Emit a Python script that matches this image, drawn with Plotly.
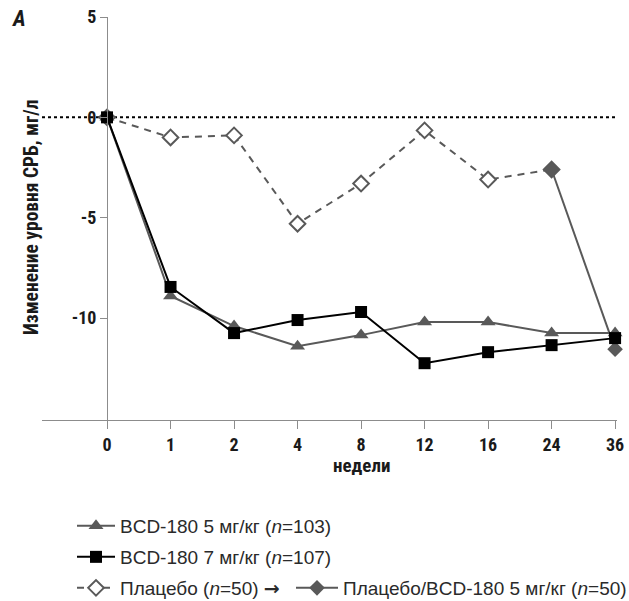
import plotly.graph_objects as go

weeks = ["0", "1", "2", "4", "8", "12", "16", "24", "36"]
xpos = list(range(len(weeks)))

bcd5 = [0, -8.9, -10.4, -11.4, -10.85, -10.2, -10.2, -10.75, -10.75]
bcd7 = [0, -8.45, -10.75, -10.1, -9.7, -12.25, -11.7, -11.35, -11.0]
placebo = [0, -1.0, -0.9, -5.3, -3.3, -0.65, -3.1, -2.6]
placebo_x = xpos[:8]
switch = [-2.6, -11.55]
switch_x = xpos[7:9]

GRAY = "#595959"
AX = "#8c8c8c"
COND = "Liberation Sans Narrow, Roboto Condensed, Arial Narrow, Liberation Sans, sans-serif"
REG = "Liberation Sans, Arial, sans-serif"

fig = go.Figure()

fig.add_trace(go.Scatter(
    x=placebo_x, y=placebo, mode="lines+markers",
    line=dict(color=GRAY, width=2, dash="7px,6px"),
    marker=dict(symbol="diamond", size=12, color="white",
                line=dict(color=GRAY, width=2)),
    name="Плацебо (<i>n</i>=50) <span style=\"font-family:DejaVu Sans;font-weight:bold\">→</span>",
    legend="legend3", cliponaxis=False))

fig.add_trace(go.Scatter(
    x=switch_x, y=switch, mode="lines+markers",
    line=dict(color=GRAY, width=2),
    marker=dict(symbol="diamond", size=12, color=GRAY),
    name="Плацебо/BCD-180 5 мг/кг (<i>n</i>=50)", legend="legend4", cliponaxis=False))

fig.add_trace(go.Scatter(
    x=xpos, y=bcd5, mode="lines+markers",
    line=dict(color=GRAY, width=2),
    marker=dict(symbol="triangle-up", size=13, color=GRAY),
    name="BCD-180 5 мг/кг (<i>n</i>=103)", legend="legend", cliponaxis=False))

fig.add_trace(go.Scatter(
    x=xpos, y=bcd7, mode="lines+markers",
    line=dict(color="black", width=2),
    marker=dict(symbol="square", size=12, color="black"),
    name="BCD-180 7 мг/кг (<i>n</i>=107)", legend="legend2", cliponaxis=False))

fig.add_shape(type="line", xref="paper", x0=0, x1=1, yref="y", y0=0, y1=0,
              line=dict(color="black", width=2, dash="dot"), layer="below")

L = 42
R = 617
xr = [-1.024, 8.03]
ypos = (0 - xr[0]) / (xr[1] - xr[0])

leg_common = dict(font=dict(family=REG, size=19, color="#2a2a2a"),
                  xref="container", yref="container", xanchor="left",
                  yanchor="middle", bgcolor="rgba(0,0,0,0)", borderwidth=0)

fig.update_layout(
    width=629, height=601,
    margin=dict(l=L, r=629 - R, t=17, b=601 - 420, autoexpand=False),
    paper_bgcolor="white", plot_bgcolor="white",
    showlegend=True,
    xaxis=dict(range=xr, tickvals=xpos, ticktext=weeks, showgrid=False,
               zeroline=False, showline=True, linecolor=AX, linewidth=1,
               ticks="outside", ticklen=8, tickcolor=AX,
               tickfont=dict(family=COND, size=18, color="#1a1a1a", weight="bold")),
    yaxis=dict(range=[-15.08, 5], tickvals=[5, 0, -5, -10],
               ticktext=["5", "0", "-5", "-10"], showgrid=False,
               zeroline=False, showline=True, linecolor=AX, linewidth=1,
               ticks="outside", ticklen=7, tickcolor=AX,
               anchor="free", position=ypos,
               tickfont=dict(family=COND, size=18, color="#1a1a1a", weight="bold")),
    legend=dict(x=72 / 629, y=1 - 526 / 601, itemwidth=38, **leg_common),
    legend2=dict(x=72 / 629, y=1 - 557 / 601, itemwidth=38, **leg_common),
    legend3=dict(x=72 / 629, y=1 - 588 / 601, itemwidth=38, **leg_common),
    legend4=dict(x=291 / 629, y=1 - 588 / 601, itemwidth=42, **leg_common),
    font=dict(family=REG),
)

fig.add_annotation(text="<b>Изменение уровня СРБ, мг/л</b>", textangle=-90,
                   xref="paper", x=(31 - L) / (R - L), yref="paper",
                   y=(420 - 218) / 403, xanchor="center", yanchor="middle",
                   showarrow=False,
                   font=dict(family=COND, size=19.5, color="#1a1a1a"))
fig.add_annotation(text="<b>недели</b>", xref="x", x=4, yref="paper",
                   y=(420 - 465) / 403, xanchor="center", yanchor="middle",
                   showarrow=False,
                   font=dict(family=COND, size=19, color="#1a1a1a"))
fig.add_annotation(text="<b><i>A</i></b>", xref="paper", x=(19 - L) / (R - L),
                   yref="paper", y=(420 - 18) / 403, xanchor="center",
                   yanchor="middle", showarrow=False,
                   font=dict(family=COND, size=22, color="#1a1a1a"))

fig.write_html("out.html", config={"displayModeBar": False},
               post_script="document.body.style.margin='0';")
